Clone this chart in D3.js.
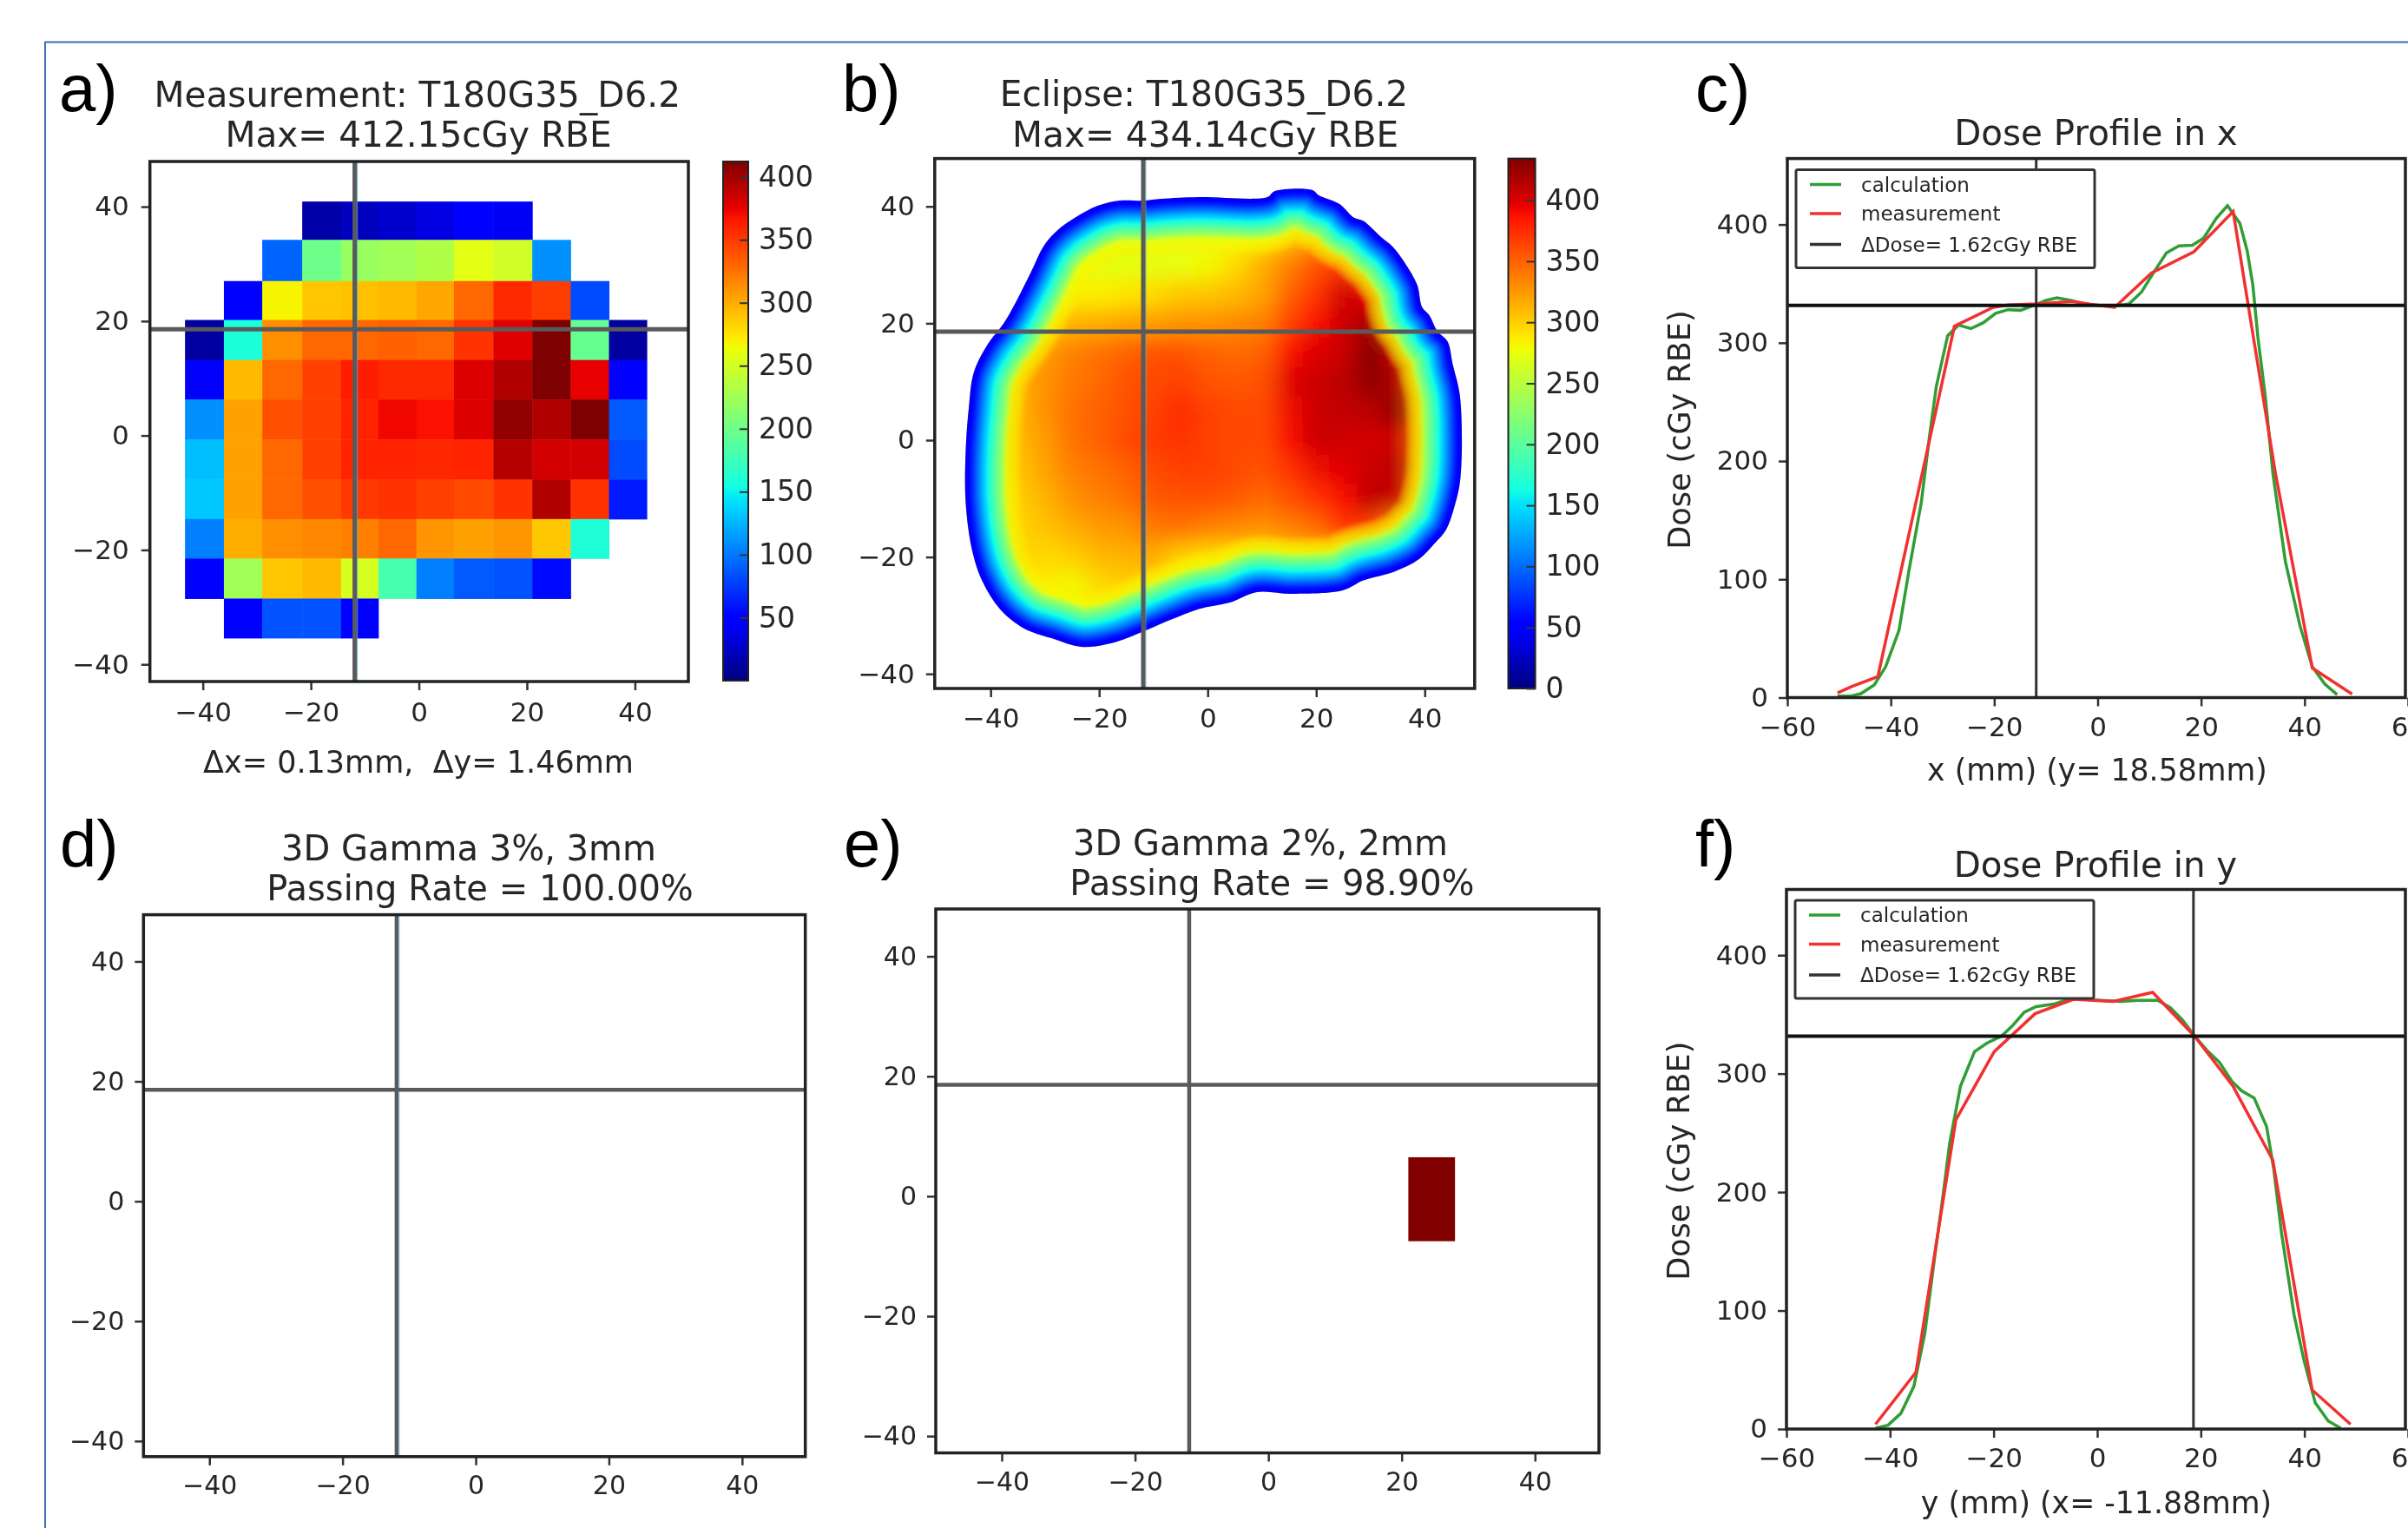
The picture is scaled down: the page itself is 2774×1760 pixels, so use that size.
<!DOCTYPE html>
<html>
<head>
<meta charset="utf-8">
<script src="https://cdnjs.cloudflare.com/ajax/libs/d3/7.8.5/d3.min.js"></script>
<style>
html, body { margin: 0; padding: 0; background: #fff; overflow: hidden; }
svg { display: block; filter: blur(0.6px); }
text { font-family: "DejaVu Sans", sans-serif; fill: #262626; }
.letter { font-family: "Liberation Sans", sans-serif; fill: #000; }
</style>
</head>
<body>
<div id="app"></div>
<script>
const n = null

// a) measured dose, one row per y band (top to bottom), one column per x band
const measXEdges = [-43.3, -36.1, -29.0, -21.6, -14.4, -7.5, -0.45, 6.5, 13.8, 21.0, 28.1, 35.2, 42.2]
const measYEdges = [40.9, 34.2, 27.0, 20.2, 13.2, 6.3, -0.7, -7.7, -14.6, -21.5, -28.5, -35.4]
const measDose = [
  [n, n, n, 15, 22, 28, 35, 48, 42, n, n, n],
  [n, n, 92, 199, 220, 225, 232, 258, 248, 110, n, n],
  [n, 45, 268, 288, 291, 294, 302, 330, 357, 349, 82, n],
  [12, 158, 313, 330, 330, 333, 330, 353, 378, 412, 195, 12],
  [44, 294, 330, 347, 363, 357, 357, 379, 395, 412, 375, 46],
  [110, 305, 340, 347, 360, 372, 368, 379, 406, 395, 412, 88],
  [129, 305, 330, 347, 360, 360, 358, 360, 393, 383, 383, 82],
  [132, 305, 330, 340, 350, 353, 347, 343, 353, 395, 353, 62],
  [103, 299, 313, 316, 319, 330, 310, 305, 310, 288, 160, n],
  [48, 225, 288, 294, 252, 180, 103, 88, 85, 55, n, n],
  [n, 48, 85, 85, 48, n, n, n, n, n, n, n]
]

// b) calculated dose, read every 5 mm inside the field
const calcX = [-45, -40, -35, -30, -25, -20, -15, -10, -5, 0, 5, 10, 15, 20, 25, 30, 35, 40, 45]
const calcY = [40, 35, 30, 25, 20, 15, 10, 5, 0, -5, -10, -15, -20, -25, -30, -35]
const calcDose = [
  [n, n, n, n, n, 265, 265, 265, 265, 268, 270, 275, 295, 300, 295, n, n, n, n],
  [n, n, n, 268, 268, 270, 270, 272, 272, 272, 278, 285, 305, 320, 320, 300, n, n, n],
  [n, n, 270, 272, 275, 273, 273, 273, 275, 280, 295, 315, 336, 358, 372, 345, 320, n, n],
  [n, 280, 285, 285, 285, 285, 290, 295, 303, 305, 310, 320, 350, 372, 405, 395, 360, 330, n],
  [n, 300, 300, 300, 313, 316, 321, 324, 328, 328, 332, 336, 365, 388, 405, 422, 351, 310, n],
  [305, 305, 305, 324, 336, 343, 351, 358, 358, 351, 347, 351, 388, 400, 406, 434, 406, 320, 300],
  [313, 313, 313, 328, 340, 347, 358, 362, 365, 358, 354, 358, 398, 406, 412, 428, 417, 340, 300],
  [313, 313, 313, 328, 343, 351, 358, 365, 376, 365, 362, 362, 392, 406, 409, 412, 428, 340, 300],
  [310, 310, 310, 324, 343, 351, 362, 368, 372, 365, 362, 362, 388, 406, 404, 402, 405, 340, 300],
  [305, 305, 305, 320, 336, 343, 351, 362, 365, 365, 362, 358, 372, 392, 398, 406, 412, 340, 300],
  [300, 300, 300, 313, 328, 336, 343, 354, 358, 358, 354, 347, 358, 372, 388, 412, 406, 340, 300],
  [300, 300, 298, 305, 316, 324, 328, 340, 343, 336, 332, 328, 336, 347, 372, 365, 330, 300, 300],
  [n, 300, 300, 295, 300, 310, 313, 316, 300, 295, 295, 295, 300, 305, 310, 315, 300, 300, n],
  [n, n, 290, 285, 280, 295, 300, 295, 285, 285, 280, 280, 285, 290, 290, n, n, n, n],
  [n, n, n, 285, 280, 285, 290, 285, 285, n, n, n, n, n, n, n, n, n, n],
  [n, n, n, n, 280, 280, 280, n, n, n, n, n, n, n, n, n, n, n, n]
]
// b) edge of the field in mm, and how the dose climbs going in from that edge
const fieldEdgeX = [-11.75, -8.6, -1.6, 11.0, 12.3, 19.3, 20.5, 24.3, 26.9, 28.7, 31.9, 34.1, 36.3, 38.6, 39.5, 40.9, 42.3, 44.2, 45.2, 46.5, 46.6, 45.5, 43.9, 42.0, 38.9, 34.4, 28.7, 24.9, 15.5, 9.1, 4.1, -1.6, -6.7, -11.75, -16.8, -23.1, -28.8, -33.9, -38.3, -41.5, -43.4, -44.6, -44.6, -44.0, -43.1, -40.4, -37.6, -35.2, -32.6, -30.1, -27.6, -24.4, -20.3, -16.2]
const fieldEdgeY = [41.0, 41.3, 41.6, 41.6, 42.6, 42.8, 41.9, 40.4, 38.1, 37.5, 34.8, 33.1, 30.4, 26.6, 22.8, 21.3, 18.7, 16.9, 12.8, 7.5, -6.3, -11.3, -15.4, -17.5, -20.4, -22.5, -24.0, -25.7, -26.3, -26.0, -27.8, -28.9, -30.7, -32.7, -34.5, -35.4, -33.9, -32.2, -28.9, -24.2, -18.9, -10.7, -1.9, 5.7, 11.6, 16.6, 20.0, 23.9, 28.7, 33.4, 36.0, 38.1, 40.1, 41.0]
const rampInset = [0, 6, 15, 26, 38, 46, 52, 64]
const rampDose = [45, 60, 108, 163, 217, 256, 273, 290]

// e) the only failing voxel block
const failX = [21, 28]
const failY = [6.5, -7.5]

// c) profile in x
const xCalcX = [-50.3, -47.9, -45.8, -43.2, -41.0, -38.4, -36.5, -34.1, -32.6, -31.2, -29.0, -26.9, -24.5, -22.1, -19.7, -17.3, -14.9, -12.1, -10.1, -7.9, -5.4, -2.5, 0.4, 3.3, 6.1, 8.5, 10.9, 13.3, 15.7, 18.3, 20.5, 22.9, 25.1, 27.5, 28.9, 30.0, 31.0, 32.4, 33.9, 36.3, 39.1, 41.5, 43.9, 46.3]
const xCalcDose = [1.2, 1.2, 3.3, 10.7, 26, 57, 107, 165, 218, 263, 306, 315, 312, 317, 325, 328, 327.5, 332, 335.7, 338, 336, 333, 331.6, 331, 333, 343, 360, 376, 382, 382.4, 388.6, 405, 416, 401, 378, 349, 304, 255, 189, 115, 61, 26, 11.5, 2.5]
const xMeasX = [-50.3, -47.5, -42.5, -27.7, -20.2, -17.3, -11.8, -4.9, -0.6, 3.3, 10.4, 18.6, 26.2, 29.1, 34.4, 41.5, 49.2]
const xMeasDose = [4, 9.5, 17.7, 314, 330, 332, 333, 335, 332, 330, 359, 377, 411, 332, 189, 25, 3]

// f) profile in y
const yCalcX = [-42.8, -40.4, -37.9, -35.4, -33.3, -31.4, -29.9, -28.5, -26.4, -23.7, -21.3, -18.5, -16.5, -14.1, -11.8, -8.4, -5.5, -2.7, 0.7, 4.5, 7.8, 11.7, 14.1, 16.4, 18.8, 21.2, 23.6, 26.0, 27.9, 30.3, 32.7, 34.1, 35.6, 38.0, 39.9, 42.1, 44.6, 47.0]
const yCalcDose = [0.8, 3.2, 13.3, 36, 80.4, 144.7, 193, 241, 289.5, 318.5, 325.8, 331.7, 339.8, 351.8, 356.6, 358.7, 362.7, 362.7, 361.9, 361, 361.9, 361.9, 355.8, 345.7, 331.7, 319.6, 309.6, 293.5, 285.4, 279.4, 255.3, 219, 164.9, 96.5, 58.3, 22.1, 6.8, 0.8]
const yMeasX = [-42.8, -35, -27.3, -19.9, -12, -4.6, 3.1, 10.7, 18.8, 26.2, 33.9, 41.5, 48.9]
const yMeasDose = [4, 48, 261, 318.5, 350.6, 362.7, 361, 368.7, 331.7, 289.5, 227, 33, 4]

const crossX = -11.88
const crossY = 18.58
const crossDose = 331.6
const mapTicks = [-40, -20, 0, 20, 40]
const profileXTicks = [-60, -40, -20, 0, 20, 40, 60]
const profileYTicks = [0, 100, 200, 300, 400]
const barTicksA = [50, 100, 150, 200, 250, 300, 350, 400]
const barTicksB = [0, 50, 100, 150, 200, 250, 300, 350, 400]
const legendLabels = ['calculation', 'measurement', 'ΔDose= 1.62cGy RBE']

// matplotlib jet
const jetStops = [0, .11, .125, .34, .35, .375, .64, .65, .66, .89, .91, 1]
const jetColors = ['#00007f', '#0000ff', '#0000ff', '#00dbff', '#00e5f7', '#14ffe2', '#eeff08', '#f7f500', '#ffec00', '#ff1300', '#e80000', '#7f0000']
const jet = d3.scaleLinear().domain(jetStops).range(jetColors).clamp(true)

const svg = d3.select('#app').append('svg').attr('width', 2774).attr('height', 1760)
const defs = svg.append('defs')

// page border of the pasted figure
svg.append('path').attr('d', 'M52,1760V48.5H2774').attr('fill', 'none').attr('stroke', '#3b6fb6').attr('stroke-width', 2)

function makeFrame(o) {
  const x = d3.scaleLinear().domain(o.xDomain).range([o.left, o.right])
  const y = d3.scaleLinear().domain(o.yDomain).range([o.top, o.bottom])
  return { x, y, o }
}

function drawAxes(f, xTicks, yTicks, size, pad) {
  const { x, y, o } = f
  const ax = svg.append('g').attr('transform', `translate(0,${o.bottom})`)
    .call(d3.axisBottom(x).tickValues(xTicks).tickFormat(d3.format('d')).tickSize(10).tickPadding(pad))
  const ay = svg.append('g').attr('transform', `translate(${o.left},0)`)
    .call(d3.axisLeft(y).tickValues(yTicks).tickFormat(d3.format('d')).tickSize(10).tickPadding(pad))
  ;[ax, ay].forEach(a => {
    a.select('.domain').remove()
    a.selectAll('line').attr('stroke', '#333').attr('stroke-width', 2.5)
    a.selectAll('text').attr('font-size', size).attr('fill', '#262626').attr('font-family', '"DejaVu Sans", sans-serif')
  })
  svg.append('rect').attr('x', o.left).attr('y', o.top)
    .attr('width', o.right - o.left).attr('height', o.bottom - o.top)
    .attr('fill', 'none').attr('stroke', '#222').attr('stroke-width', 3.5)
}

function drawCross(f, light, w) {
  const { x, y, o } = f
  // thin blue fringe left by the image beside the grey vertical hair line
  if (light) {
    svg.append('line').attr('x1', x(crossX) + 3).attr('x2', x(crossX) + 3).attr('y1', o.top).attr('y2', o.bottom)
      .attr('stroke', '#56b4dc').attr('stroke-width', 1.2).attr('stroke-opacity', 0.7)
  }
  svg.append('line').attr('x1', x(crossX)).attr('x2', x(crossX)).attr('y1', o.top).attr('y2', o.bottom)
    .attr('stroke', '#5a5a5a').attr('stroke-width', w)
  svg.append('line').attr('x1', o.left).attr('x2', o.right).attr('y1', y(crossY)).attr('y2', y(crossY))
    .attr('stroke', '#5a5a5a').attr('stroke-width', w)
}

function drawBar(id, o, max, ticks) {
  const y = d3.scaleLinear().domain([0, max]).range([o.bottom, o.top])
  const grad = defs.append('linearGradient').attr('id', id).attr('x1', 0).attr('x2', 0).attr('y1', 1).attr('y2', 0)
  jetStops.forEach((s, i) => grad.append('stop').attr('offset', s).attr('stop-color', jetColors[i]))
  svg.append('rect').attr('x', o.left).attr('y', o.top).attr('width', o.right - o.left).attr('height', o.bottom - o.top)
    .attr('fill', `url(#${id})`).attr('stroke', '#222').attr('stroke-width', 2)
  const a = svg.append('g').attr('transform', `translate(${o.right},0)`)
    .call(d3.axisRight(y).tickValues(ticks).tickFormat(d3.format('d')).tickSizeInner(-10).tickSizeOuter(0).tickPadding(12))
  a.select('.domain').remove()
  a.selectAll('line').attr('stroke', '#333').attr('stroke-width', 2)
  a.selectAll('text').attr('font-size', 33).attr('fill', '#262626').attr('font-family', '"DejaVu Sans", sans-serif')
}

function title(str, cx, base, size) {
  svg.append('text').attr('x', cx).attr('y', base).attr('text-anchor', 'middle').attr('font-size', size || 40).text(str)
}

function letter(str, x, base) {
  svg.append('text').attr('class', 'letter').attr('x', x).attr('y', base).attr('font-size', 76).text(str)
}

// ---- a) measurement
const fa = makeFrame({ left: 172.7, right: 793, top: 186, bottom: 785, xDomain: [-49.8, 49.9], yDomain: [47.9, -43] })
const colorA = v => jet(v / 412.15)
const cellsA = []
measDose.forEach((row, r) => row.forEach((v, c) => { if (v !== null) cellsA.push({ r, c, v }) }))
svg.append('g').selectAll('rect').data(cellsA).enter().append('rect')
  .attr('x', d => fa.x(measXEdges[d.c]))
  .attr('y', d => fa.y(measYEdges[d.r]))
  .attr('width', d => fa.x(measXEdges[d.c + 1]) - fa.x(measXEdges[d.c]) + 0.5)
  .attr('height', d => fa.y(measYEdges[d.r + 1]) - fa.y(measYEdges[d.r]) + 0.5)
  .attr('fill', d => colorA(d.v))
drawCross(fa, true, 5)
drawAxes(fa, mapTicks, mapTicks, 31, 14)
drawBar('barA', { left: 833, right: 862, top: 186, bottom: 784 }, 412.15, barTicksA)
title('Measurement: T180G35_D6.2', 480.7, 122.6, 40.6)
title('Max= 412.15cGy RBE', 482, 169, 40.6)
title('Δx= 0.13mm,\u00a0\u00a0Δy= 1.46mm', 482, 890, 35)
letter('a)', 68, 128)

// ---- b) eclipse
const fb = makeFrame({ left: 1076.8, right: 1698.8, top: 182.6, bottom: 793, xDomain: [-50.3, 49.2], yDomain: [48.2, -42.5] })
const colorB = v => jet(v / 434.14)
const edgePts = fieldEdgeX.map((x, i) => [x, fieldEdgeY[i]])
const edgeLine = d3.line().x(d => fb.x(d[0])).y(d => fb.y(d[1])).curve(d3.curveCatmullRomClosed.alpha(0.5))
defs.append('clipPath').attr('id', 'fieldClip').append('path').attr('d', edgeLine(edgePts))
defs.append('filter').attr('id', 'blurField').attr('x', '-15%').attr('y', '-15%').attr('width', '130%').attr('height', '130%')
  .append('feGaussianBlur').attr('stdDeviation', 12)
defs.append('filter').attr('id', 'blurRamp').attr('x', '-15%').attr('y', '-15%').attr('width', '130%').attr('height', '130%')
  .append('feGaussianBlur').attr('stdDeviation', 1.5)

const field = svg.append('g').attr('clip-path', 'url(#fieldClip)')
const cellsB = []
calcDose.forEach((row, r) => row.forEach((v, c) => { if (v !== null) cellsB.push({ r, c, v }) }))
field.append('g').attr('filter', 'url(#blurField)').selectAll('rect').data(cellsB).enter().append('rect')
  .attr('x', d => fb.x(calcX[d.c] - 2.5))
  .attr('y', d => fb.y(calcY[d.r] + 2.5))
  .attr('width', d => fb.x(calcX[d.c] + 2.5) - fb.x(calcX[d.c] - 2.5) + 1)
  .attr('height', d => fb.y(calcY[d.r] - 2.5) - fb.y(calcY[d.r] + 2.5) + 1)
  .attr('fill', d => colorB(d.v))
// rim of the field: the outline stroked from wide to narrow, one colour per inset
const rampScale = d3.scaleLinear().domain(rampInset).range(rampDose)
const insets = d3.range(64, -1, -2)
field.append('g').attr('filter', 'url(#blurRamp)').selectAll('path').data(insets).enter().append('path')
  .attr('d', edgeLine(edgePts))
  .attr('fill', 'none')
  .attr('stroke', d => colorB(rampScale(d)))
  .attr('stroke-width', d => 2 * d + 3)
  .attr('stroke-linejoin', 'round')
  .attr('stroke-opacity', d => d > 44 ? 0.16 : 1)
drawCross(fb, true, 5)
drawAxes(fb, mapTicks, mapTicks, 31, 13)
drawBar('barB', { left: 1737.5, right: 1768.6, top: 182.6, bottom: 793 }, 434.14, barTicksB)
title('Eclipse: T180G35_D6.2', 1387, 121.5, 40.6)
title('Max= 434.14cGy RBE', 1388.6, 169, 40.6)
letter('b)', 970, 128)

// ---- d) gamma 3%/3mm
const fd = makeFrame({ left: 165.3, right: 927.7, top: 1053.6, bottom: 1677.8, xDomain: [-49.9, 49.5], yDomain: [47.8, -42.6] })
drawCross(fd, true, 4.5)
drawAxes(fd, mapTicks, mapTicks, 30, 12)
title('3D Gamma 3%, 3mm', 540, 990.5)
title('Passing Rate = 100.00%', 553, 1037)
letter('d)', 69, 997.6)

// ---- e) gamma 2%/2mm
const fe = makeFrame({ left: 1078, right: 1842, top: 1047, bottom: 1673.5, xDomain: [-49.9, 49.6], yDomain: [47.9, -42.8] })
svg.append('rect')
  .attr('x', fe.x(failX[0])).attr('width', fe.x(failX[1]) - fe.x(failX[0]))
  .attr('y', fe.y(failY[0])).attr('height', fe.y(failY[1]) - fe.y(failY[0]))
  .attr('fill', '#800000')
drawCross(fe, false, 4.5)
drawAxes(fe, mapTicks, mapTicks, 30, 12)
title('3D Gamma 2%, 2mm', 1452, 985)
title('Passing Rate = 98.90%', 1465.5, 1030.6)
letter('e)', 972, 997.6)

// ---- c) and f) profiles
function drawProfile(o, calc, meas, crossAt, xLabel, mainTitle, titleBase, legendTop, labelBase) {
  const f = makeFrame(o)
  const line = d3.line().x(d => f.x(d[0])).y(d => f.y(d[1]))
  svg.append('path').attr('d', line(calc)).attr('fill', 'none').attr('stroke', '#2f9e35').attr('stroke-width', 3.5)
  svg.append('path').attr('d', line(meas)).attr('fill', 'none').attr('stroke', '#f23030').attr('stroke-width', 3.5)
  svg.append('line').attr('x1', f.x(crossAt)).attr('x2', f.x(crossAt)).attr('y1', o.top).attr('y2', o.bottom)
    .attr('stroke', '#333').attr('stroke-width', 3)
  svg.append('line').attr('x1', o.left).attr('x2', o.right).attr('y1', f.y(crossDose)).attr('y2', f.y(crossDose))
    .attr('stroke', '#111').attr('stroke-width', 4)
  drawAxes(f, profileXTicks, profileYTicks, 31, 12)

  const lg = svg.append('g').attr('transform', `translate(${o.left + 10},${legendTop})`)
  lg.append('rect').attr('width', 344).attr('height', 113).attr('rx', 2)
    .attr('fill', '#fff').attr('stroke', '#333').attr('stroke-width', 3)
  const rowY = [17, 50.5, 86]
  const rowColor = ['#2f9e35', '#f23030', '#333']
  legendLabels.forEach((t, i) => {
    lg.append('line').attr('x1', 16).attr('x2', 52).attr('y1', rowY[i]).attr('y2', rowY[i])
      .attr('stroke', rowColor[i]).attr('stroke-width', 3.5)
    lg.append('text').attr('x', 75).attr('y', rowY[i] + 8).attr('font-size', 23).attr('fill', '#444').text(t)
  })

  title(mainTitle, (o.left + 2772 - 2) / 2, titleBase, 40.4)
  title(xLabel, o.left + 357, labelBase, 34.7)
  svg.append('text').attr('transform', `translate(${o.left - 112},${(o.top + o.bottom) / 2 + 2}) rotate(-90)`)
    .attr('text-anchor', 'middle').attr('font-size', 35).text('Dose (cGy RBE)')
}

drawProfile({ left: 2059, right: 2771, top: 182.6, bottom: 803.5, xDomain: [-60, 59.5], yDomain: [455.8, 0] },
  xCalcX.map((x, i) => [x, xCalcDose[i]]), xMeasX.map((x, i) => [x, xMeasDose[i]]),
  crossX, 'x (mm) (y= 18.58mm)', 'Dose Profile in x', 167, 195.5, 899)
letter('c)', 1953, 128)

drawProfile({ left: 2058, right: 2771, top: 1024.5, bottom: 1646, xDomain: [-60, 59.5], yDomain: [455.5, 0] },
  yCalcX.map((x, i) => [x, yCalcDose[i]]), yMeasX.map((x, i) => [x, yMeasDose[i]]),
  crossY, 'y (mm) (x= -11.88mm)', 'Dose Profile in y', 1010, 1037, 1743)
letter('f)', 1953, 997.6)
</script>
</body>
</html>
